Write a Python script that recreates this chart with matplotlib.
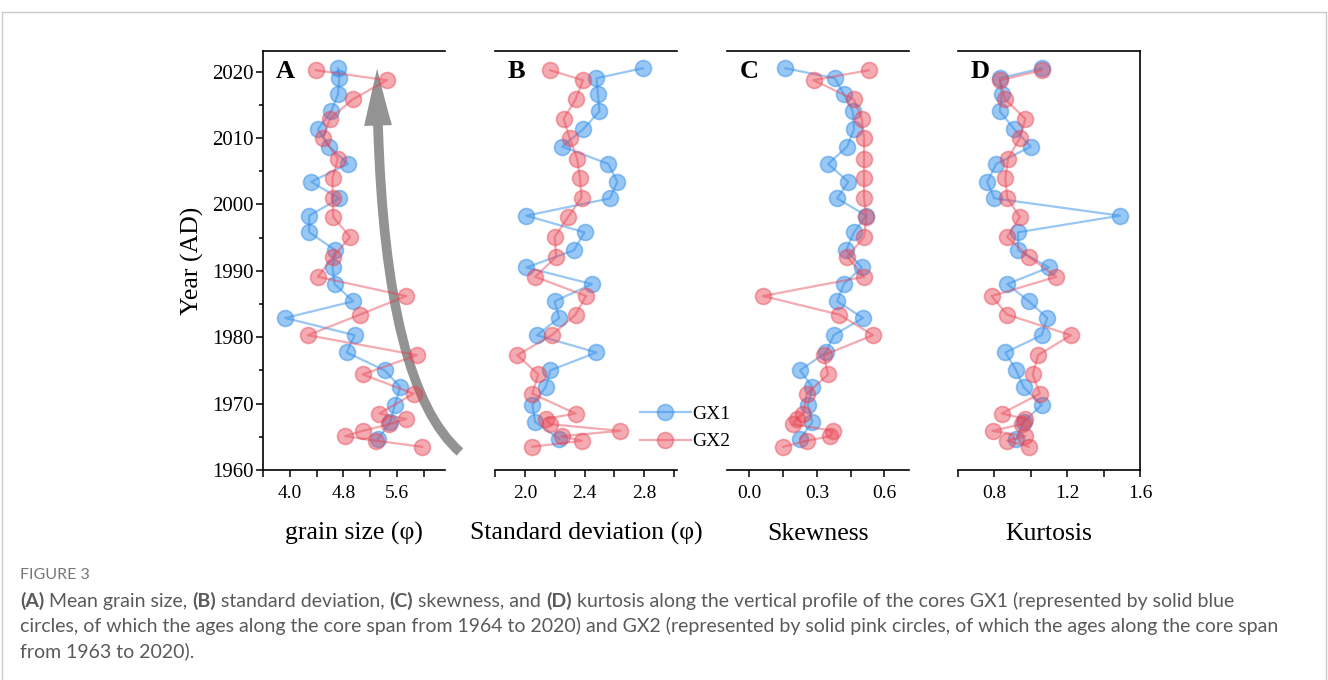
import matplotlib
matplotlib.use("Agg")
import matplotlib.pyplot as plt
from matplotlib.patches import FancyArrowPatch, Rectangle
from matplotlib.path import Path
from matplotlib.lines import Line2D
from matplotlib.ticker import FixedLocator, FormatStrFormatter

# ages of the two cores (AD)
gx1_year = [2020.5, 2019.0, 2016.6, 2014.0, 2011.3, 2008.7, 2006.1, 2003.4, 2000.9, 1998.3,
            1995.8, 1993.1, 1990.5, 1988.0, 1985.4, 1982.9, 1980.3, 1977.7, 1975.0, 1972.5,
            1969.8, 1967.2, 1964.7]
gx2_year = [2020.2, 2018.7, 2015.8, 2012.9, 2010.0, 2006.9, 2004.0, 2001.0, 1998.1, 1995.1,
            1992.1, 1989.1, 1986.2, 1983.4, 1980.3, 1977.3, 1974.4, 1971.5, 1968.5, 1967.7,
            1966.9, 1965.9, 1965.1, 1964.4, 1963.5]

# mean grain size (phi)
gx1_mz = [4.72, 4.74, 4.72, 4.62, 4.42, 4.59, 4.87, 4.32, 4.74, 4.29, 4.29, 4.68, 4.64, 4.67,
          4.95, 3.93, 4.97, 4.85, 5.42, 5.65, 5.57, 5.50, 5.32]
gx2_mz = [4.39, 5.45, 4.94, 4.60, 4.50, 4.72, 4.64, 4.64, 4.65, 4.90, 4.65, 4.42, 5.74, 5.05,
          4.27, 5.90, 5.09, 5.85, 5.34, 5.74, 5.49, 5.09, 4.83, 5.29, 5.98]

# standard deviation (phi)
gx1_sd = [2.79, 2.48, 2.49, 2.50, 2.39, 2.25, 2.56, 2.62, 2.57, 2.01, 2.40, 2.33, 2.01, 2.45,
          2.20, 2.23, 2.08, 2.48, 2.17, 2.14, 2.05, 2.07, 2.23]
gx2_sd = [2.17, 2.39, 2.34, 2.26, 2.30, 2.35, 2.37, 2.38, 2.29, 2.20, 2.21, 2.07, 2.41, 2.34,
          2.18, 1.95, 2.09, 2.05, 2.34, 2.14, 2.17, 2.64, 2.25, 2.38, 2.05]

# skewness
gx1_sk = [0.16, 0.38, 0.42, 0.46, 0.465, 0.435, 0.35, 0.44, 0.39, 0.52, 0.465, 0.43, 0.50, 0.42,
          0.39, 0.505, 0.375, 0.34, 0.225, 0.28, 0.26, 0.28, 0.225]
gx2_sk = [0.53, 0.285, 0.465, 0.50, 0.51, 0.51, 0.51, 0.51, 0.52, 0.51, 0.435, 0.51, 0.06, 0.40,
          0.55, 0.33, 0.35, 0.255, 0.24, 0.21, 0.195, 0.37, 0.36, 0.255, 0.15]

# kurtosis
gx1_kg = [1.06, 0.83, 0.84, 0.83, 0.91, 1.00, 0.81, 0.76, 0.80, 1.49, 0.93, 0.93, 1.10, 0.87,
          0.99, 1.09, 1.06, 0.86, 0.92, 0.96, 1.06, 0.96, 0.92]
gx2_kg = [1.06, 0.83, 0.86, 0.97, 0.94, 0.875, 0.86, 0.87, 0.94, 0.87, 0.99, 1.14, 0.785, 0.87,
          1.22, 1.04, 1.01, 1.05, 0.84, 0.97, 0.95, 0.79, 0.97, 0.87, 0.99]

panel_letters = ["A", "B", "C", "D"]
x_labels = ["grain size (\u03c6)", "Standard deviation (\u03c6)", "Skewness", "Kurtosis"]
x_major = [[4.0, 4.8, 5.6], [2.0, 2.4, 2.8], [0.0, 0.3, 0.6], [0.8, 1.2, 1.6]]
x_minor = [[3.6, 4.4, 5.2, 6.0], [1.8, 2.2, 2.6, 3.0], [0.15, 0.45], [0.6, 1.0, 1.4]]
x_lims = [(3.6, 6.32), (1.8, 3.02), (-0.1, 0.71), (0.6, 1.6)]

BLUE = "#2a8aea"
RED = "#e84352"
SERIF = ["Liberation Serif", "DejaVu Serif"]
MK = dict(lw=1.6, ms=11.5, markeredgewidth=1.2)

W, H = 1328, 680
fig = plt.figure(figsize=(W / 100, H / 100), dpi=100)

# light frame around the whole figure block
fig.patches.append(Rectangle((2 / W, -0.02), 1324 / W, 1 - 11.5 / H + 0.02,
                             transform=fig.transFigure, fill=False,
                             edgecolor="#c8c8c8", linewidth=1.0))

lefts = [263, 495, 727, 958]
ax_w, ax_top, ax_bot = 182, 51, 470
axes = []
for l in lefts:
    a = fig.add_axes([l / W, 1 - ax_bot / H, ax_w / W, (ax_bot - ax_top) / H])
    a.patch.set_visible(False)
    axes.append(a)

gx1 = [gx1_mz, gx1_sd, gx1_sk, gx1_kg]
gx2 = [gx2_mz, gx2_sd, gx2_sk, gx2_kg]

for i, ax in enumerate(axes):
    ax.plot(gx1[i], gx1_year, "-o", color=BLUE, alpha=0.48, zorder=3, **MK)
    ax.plot(gx2[i], gx2_year, "-o", color=RED, alpha=0.45, zorder=4, **MK)
    ax.set_xlim(*x_lims[i])
    ax.set_ylim(1960, 2023.1)
    for s in ax.spines.values():
        s.set_linewidth(1.2)
    ax.spines["left"].set_visible(i == 0)
    ax.spines["right"].set_visible(i == 3)
    ax.xaxis.set_major_locator(FixedLocator(x_major[i]))
    ax.xaxis.set_minor_locator(FixedLocator(x_minor[i]))
    ax.xaxis.set_major_formatter(FormatStrFormatter("%.1f"))
    ax.tick_params(axis="x", which="both", direction="out", length=5, width=1.1,
                   labelsize=14, pad=6)
    for t in ax.get_xticklabels():
        t.set_family(SERIF)
    ax.set_xlabel(x_labels[i], fontsize=18.5, family=SERIF)
    ax.xaxis.set_label_coords(0.5, -0.152)
    ax.xaxis.label.set_verticalalignment("center")
    ax.text(0.12, 0.95, panel_letters[i], transform=ax.transAxes, fontsize=19,
            fontweight="bold", family=SERIF, ha="center", va="center")
    if i == 0:
        ax.yaxis.set_major_locator(FixedLocator(range(1960, 2021, 10)))
        ax.yaxis.set_minor_locator(FixedLocator(range(1965, 2021, 10)))
        ax.tick_params(axis="y", which="major", direction="out", length=5, width=1.1,
                       labelsize=15, pad=1.5)
        ax.tick_params(axis="y", which="minor", direction="out", length=3, width=1.1)
        for t in ax.get_yticklabels():
            t.set_family(SERIF)
        ax.set_ylabel("Year (AD)", fontsize=18.5, family=SERIF, va="center")
        ax.yaxis.set_label_coords(-0.39, 0.5)
    else:
        ax.set_yticks([])

# curved arrow in panel A pointing upwards in time
ax = axes[0]
arrow_path = Path([(1.082, 0.043), (0.632, 0.215), (0.627, 0.958)],
                  [Path.MOVETO, Path.CURVE3, Path.CURVE3])
arrow = FancyArrowPatch(path=arrow_path, transform=ax.transAxes,
                        arrowstyle="simple,head_length=41,head_width=20,tail_width=7",
                        mutation_scale=1, color="#808080", alpha=0.85, lw=0,
                        clip_on=False, zorder=2)
ax.add_patch(arrow)

# legend sits in the gap between panels B and C
handles = [Line2D([], [], color=BLUE, alpha=0.48, marker="o", **MK),
           Line2D([], [], color=RED, alpha=0.45, marker="o", **MK)]
leg = fig.legend(handles, ["GX1", "GX2"], loc="center left",
                 bbox_to_anchor=(640 / W, 1 - 428 / H),
                 frameon=False, handlelength=2.6, handletextpad=0.1, borderpad=0,
                 borderaxespad=0, labelspacing=0.5, prop={"family": SERIF, "size": 14})
leg.set_zorder(10)

# caption underneath
fig.text(20 / W, 1 - 575 / H, "FIGURE 3", fontsize=11.5, color="#777777",
         family="Lato", va="center")

renderer = fig.canvas.get_renderer()


def caption_line(y, runs):
    x = 20 / W
    for s, bold in runs:
        t = fig.text(x, 1 - y / H, s, fontsize=14, color="#5a5a5a", family="Lato",
                     fontweight="bold" if bold else "normal", va="center")
        x += t.get_window_extent(renderer=renderer).width / W


caption_line(601, [("(A)", True), (" Mean grain size, ", False), ("(B)", True),
                   (" standard deviation, ", False), ("(C)", True), (" skewness, and ", False),
                   ("(D)", True),
                   (" kurtosis along the vertical profile of the cores GX1 (represented by solid blue",
                    False)])
caption_line(626, [("circles, of which the ages along the core span from 1964 to 2020) and GX2 "
                    "(represented by solid pink circles, of which the ages along the core span", False)])
caption_line(651, [("from 1963 to 2020).", False)])

fig.savefig("out.png", dpi=100)
